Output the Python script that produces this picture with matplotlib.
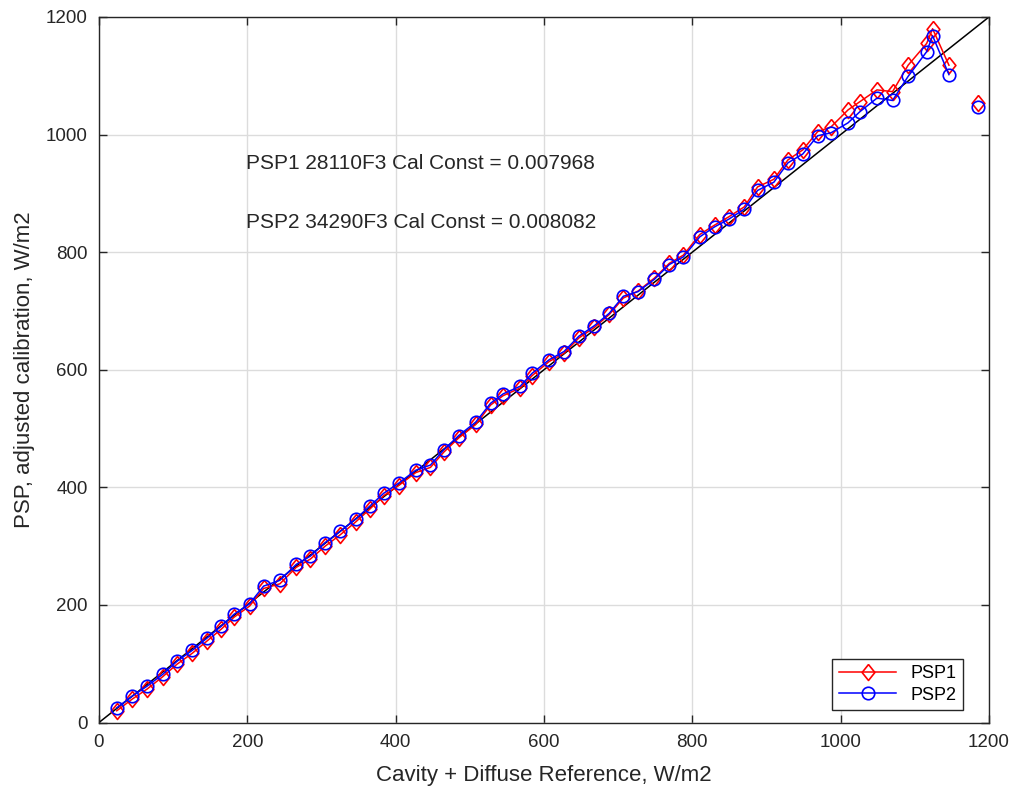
import numpy as np
import matplotlib
matplotlib.use('Agg')
import matplotlib.pyplot as plt

plt.rcParams['font.family'] = ['Liberation Sans', 'DejaVu Sans']

# referencia (cavidade + difusa), W/m2
ref = [24, 45, 65, 86, 105, 126, 146, 165, 182, 203, 222, 244, 266, 285, 305, 325,
       346, 366, 384, 404, 427, 447, 465, 485, 508, 528, 545, 568, 584, 607, 627,
       647, 668, 688, 707, 727, 749, 769, 788, 810, 830, 849, 870, 888, 910, 929,
       949, 969, 987, 1010, 1026, 1049, 1070, 1091, 1116, 1124, 1146, np.nan, 1185]

psp1 = [20, 40, 57, 78, 99, 118, 139, 159, 179, 198, 228, 236, 264, 278, 300, 319,
        341, 364, 386, 403, 425, 434, 460, 484, 507, 540, 556, 569, 590, 614, 628,
        654, 672, 694, 722, 734, 756, 781, 795, 830, 846, 860, 877, 911, 924, 957,
        974, 1005, 1013, 1042, 1056, 1076, 1073, 1118, 1155, 1180, 1118, np.nan, 1053]

psp2 = [25, 45, 62, 82, 104, 123, 144, 164, 184, 202, 232, 242, 269, 283, 306, 325,
        346, 369, 390, 407, 429, 438, 464, 488, 511, 543, 559, 572, 594, 617, 631,
        657, 675, 696, 725, 733, 754, 779, 792, 826, 843, 856, 873, 905, 919, 952,
        967, 998, 1003, 1020, 1039, 1062, 1058, 1099, 1141, 1168, 1102, np.nan, 1047]

linha_1para1 = [0, 1200]

textos = ['PSP1 28110F3 Cal Const = 0.007968', 'PSP2 34290F3 Cal Const = 0.008082']
pos_textos = [(198, 950), (198, 850)]

# losango um pouco mais alto que largo (estilo octave)
losango = [(0, 1), (0.8, 0), (0, -1), (-0.8, 0), (0, 1)]

fig = plt.figure(figsize=(10.16, 7.9), dpi=100, facecolor='white')
ax = fig.add_axes([0.0974, 0.0854, 0.876, 0.8931])

cinza = '#262626'
ax.plot(linha_1para1, linha_1para1, color='black', lw=1.1, zorder=2)
ax.plot(ref, psp1, color='red', lw=1.1, marker=losango, markersize=11.5,
        markerfacecolor='none', markeredgewidth=1.2, label='PSP1', zorder=3)
ax.plot(ref, psp2, color='blue', lw=1.1, marker='o', markersize=9,
        markerfacecolor='none', markeredgewidth=1.2, label='PSP2', zorder=4)

for t, (xt, yt) in zip(textos, pos_textos):
    ax.text(xt, yt, t, fontsize=15, color=cinza, ha='left', va='center')

ax.set_xlim(0, 1200)
ax.set_ylim(0, 1200)
ax.set_xticks(range(0, 1201, 200))
ax.set_yticks(range(0, 1201, 200))
ax.grid(True, color='#dcdcdc', lw=1.0)
ax.set_axisbelow(True)
ax.tick_params(direction='in', top=True, right=True, length=6, width=1.0,
               labelsize=13.5, colors=cinza, pad=8)
for s in ax.spines.values():
    s.set_color(cinza)
    s.set_linewidth(1.0)

ax.set_xlabel('Cavity + Diffuse Reference, W/m2', fontsize=16, color=cinza, labelpad=10)
ax.set_ylabel('PSP, adjusted calibration, W/m2', fontsize=16, color=cinza, labelpad=8)

leg = ax.legend(loc='lower right', bbox_to_anchor=(0.971, 0.018), borderaxespad=0,
                fontsize=13, fancybox=False, framealpha=1, edgecolor=cinza,
                handlelength=3.2, borderpad=0.35, labelspacing=0.25)
leg.get_frame().set_linewidth(1.0)

fig.savefig('out.png', dpi=100)
